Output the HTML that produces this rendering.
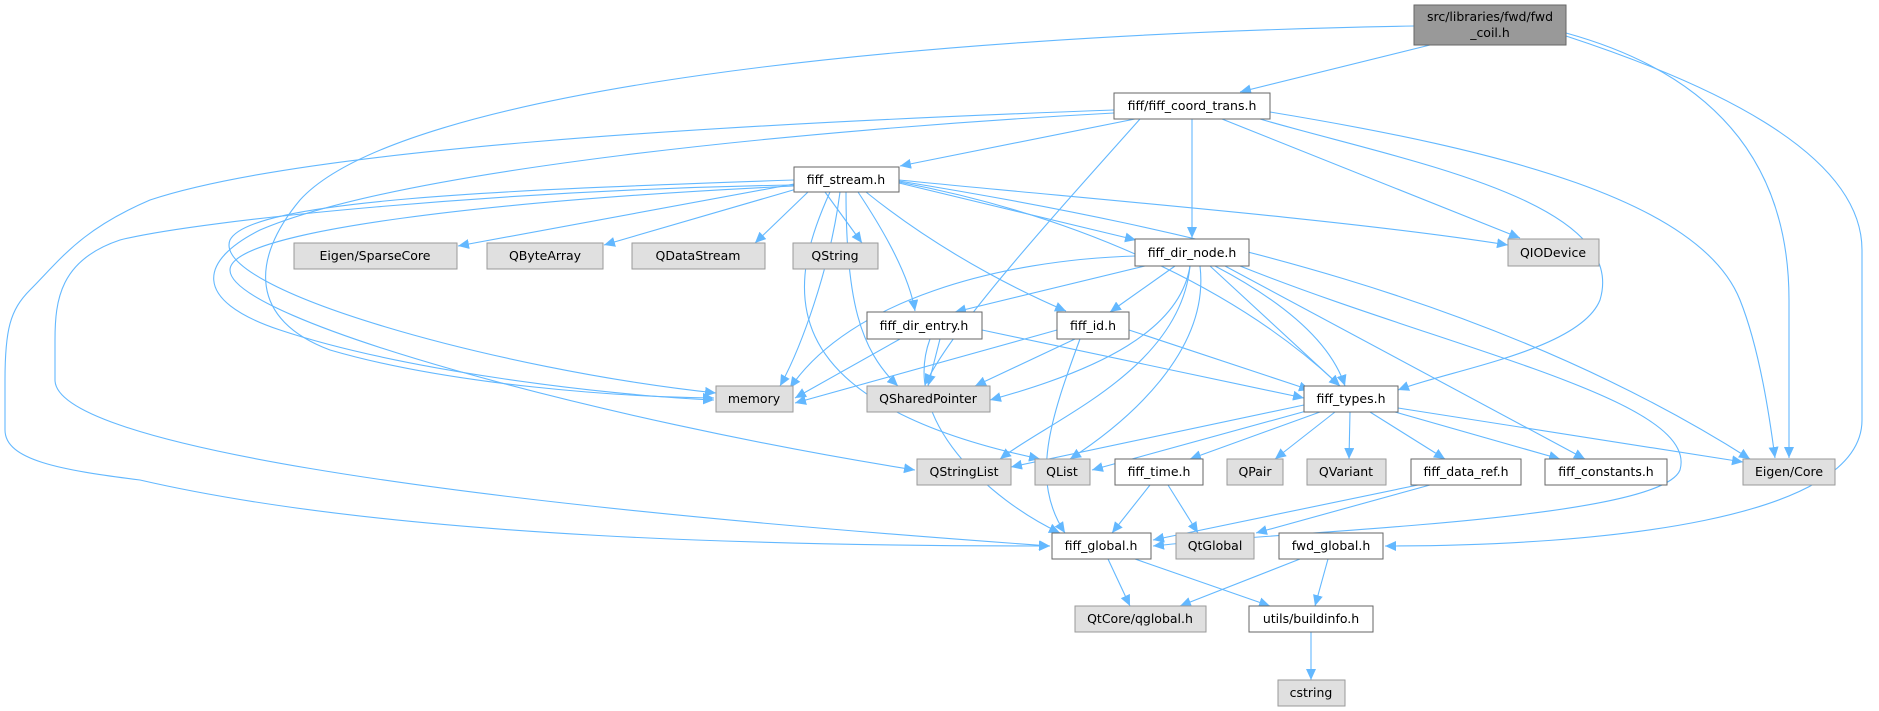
<!DOCTYPE html>
<html><head><meta charset="utf-8"><style>
html,body{margin:0;padding:0;background:#fff;}
svg{display:block;}
text{font-family:"DejaVu Sans","Liberation Sans",sans-serif;font-size:12.5px;fill:#000;}
.w{fill:#fff;stroke:#666;stroke-width:1;}
.g{fill:#e0e0e0;stroke:#999;stroke-width:1;}
.e{fill:none;stroke:#63b8ff;stroke-width:1.1;marker-end:url(#a);}
</style></head><body>
<svg width="1879" height="711" viewBox="0 0 1879 711" xmlns="http://www.w3.org/2000/svg">
<defs><marker id="a" markerUnits="userSpaceOnUse" markerWidth="12" markerHeight="10" refX="11" refY="5" orient="auto"><path d="M0,0 L11,5 L0,10 z" fill="#63b8ff"/></marker></defs>
<g>
<path class="e" d="M1430,45 L1240,92"/>
<path class="e" d="M1414,26 C900,35 400,90 300,200 C250,260 250,320 330,350 C450,385 620,397 714,398"/>
<path class="e" d="M1566,33 C1700,70 1789,150 1789,300 L1789,458"/>
<path class="e" d="M1566,36 C1700,80 1862,150 1862,250 L1862,420 C1862,520 1600,546 1385,546"/>
<path class="e" d="M1135,119 L900,166"/>
<path class="e" d="M1114,110 C700,125 300,150 150,200 C80,230 60,260 30,290 C10,310 5,330 5,380 L5,430 C5,460 60,470 140,480 C400,540 800,546 1050,546"/>
<path class="e" d="M1114,113 C800,130 400,170 260,230 C200,260 190,300 280,330 C400,370 600,395 714,400"/>
<path class="e" d="M1140,119 C1050,220 950,330 925,385"/>
<path class="e" d="M1192,119 L1192,238"/>
<path class="e" d="M1222,119 L1520,238"/>
<path class="e" d="M1260,119 C1400,160 1630,200 1600,300 C1580,350 1450,370 1398,390"/>
<path class="e" d="M1270,112 C1500,150 1700,200 1740,300 C1760,350 1770,420 1775,458"/>
<path class="e" d="M794,184 L458,246"/>
<path class="e" d="M800,188 L604,245"/>
<path class="e" d="M808,192 L755,243"/>
<path class="e" d="M825,192 L862,243"/>
<path class="e" d="M794,180 C500,190 250,200 230,240 C210,290 500,370 716,393"/>
<path class="e" d="M840,192 C830,270 800,350 780,386"/>
<path class="e" d="M846,192 C846,300 860,350 898,386"/>
<path class="e" d="M858,192 C890,240 910,280 915,311"/>
<path class="e" d="M866,192 C950,260 1040,300 1066,311"/>
<path class="e" d="M899,183 L1136,240"/>
<path class="e" d="M899,180 C1100,200 1350,220 1508,245"/>
<path class="e" d="M899,182 C1100,220 1250,300 1340,386"/>
<path class="e" d="M899,181 C1200,230 1500,300 1750,459"/>
<path class="e" d="M830,192 C790,280 760,400 1040,459"/>
<path class="e" d="M794,186 C500,200 230,230 230,270 C230,320 600,420 915,470"/>
<path class="e" d="M794,185 C500,190 200,220 120,240 C60,260 55,300 55,340 L55,380 C55,440 400,500 1050,546"/>
<path class="e" d="M1145,266 L955,312"/>
<path class="e" d="M1175,266 L1110,312"/>
<path class="e" d="M1135,256 C1000,260 850,300 790,388"/>
<path class="e" d="M1190,266 C1180,330 1100,370 990,400"/>
<path class="e" d="M1190,266 C1180,370 1050,420 1000,459"/>
<path class="e" d="M1200,266 C1210,350 1130,420 1070,459"/>
<path class="e" d="M1210,266 L1340,386"/>
<path class="e" d="M1215,266 C1280,300 1330,340 1345,386"/>
<path class="e" d="M1225,266 L1585,459"/>
<path class="e" d="M1240,266 C1450,350 1700,400 1680,470 C1660,520 1300,530 1153,546"/>
<path class="e" d="M900,339 L795,398"/>
<path class="e" d="M940,339 L928,386"/>
<path class="e" d="M982,330 L1304,398"/>
<path class="e" d="M930,339 C900,420 990,500 1060,533"/>
<path class="e" d="M1057,330 L795,403"/>
<path class="e" d="M1075,339 L975,386"/>
<path class="e" d="M1129,330 L1310,390"/>
<path class="e" d="M1080,339 C1050,420 1030,480 1065,533"/>
<path class="e" d="M1304,405 L1011,467"/>
<path class="e" d="M1310,410 L1092,470"/>
<path class="e" d="M1320,412 L1190,459"/>
<path class="e" d="M1335,412 L1275,459"/>
<path class="e" d="M1350,412 L1349,459"/>
<path class="e" d="M1370,412 L1445,459"/>
<path class="e" d="M1395,412 L1560,459"/>
<path class="e" d="M1398,408 L1743,462"/>
<path class="e" d="M1150,485 L1112,533"/>
<path class="e" d="M1168,485 L1198,533"/>
<path class="e" d="M1418,485 L1153,540"/>
<path class="e" d="M1430,485 L1256,533"/>
<path class="e" d="M1108,559 L1130,606"/>
<path class="e" d="M1135,559 L1270,606"/>
<path class="e" d="M1300,559 L1180,606"/>
<path class="e" d="M1328,559 L1315,606"/>
<path class="e" d="M1311,632 L1311,680"/>
</g>
<g text-anchor="middle">
<rect x="1414" y="5" width="152" height="40" fill="#999" stroke="#666"/>
<text x="1490" y="21">src/libraries/fwd/fwd</text><text x="1490" y="37">_coil.h</text>
<rect class="w" x="1114" y="93" width="156" height="26"/><text x="1192" y="110">fiff/fiff_coord_trans.h</text>
<rect class="w" x="794" y="167" width="105" height="25"/><text x="846" y="184">fiff_stream.h</text>
<rect class="g" x="294" y="243" width="163" height="26"/><text x="375" y="260">Eigen/SparseCore</text>
<rect class="g" x="487" y="243" width="116" height="26"/><text x="545" y="260">QByteArray</text>
<rect class="g" x="632" y="243" width="133" height="26"/><text x="698" y="260">QDataStream</text>
<rect class="g" x="793" y="243" width="85" height="26"/><text x="835" y="260">QString</text>
<rect class="w" x="1135" y="239" width="114" height="27"/><text x="1192" y="257">fiff_dir_node.h</text>
<rect class="g" x="1508" y="239" width="91" height="27"/><text x="1553" y="257">QIODevice</text>
<rect class="w" x="867" y="312" width="115" height="27"/><text x="924" y="330">fiff_dir_entry.h</text>
<rect class="w" x="1057" y="312" width="72" height="27"/><text x="1093" y="330">fiff_id.h</text>
<rect class="g" x="716" y="386" width="77" height="26"/><text x="754" y="403">memory</text>
<rect class="g" x="867" y="386" width="123" height="26"/><text x="928" y="403">QSharedPointer</text>
<rect class="w" x="1304" y="386" width="94" height="26"/><text x="1351" y="403">fiff_types.h</text>
<rect class="g" x="917" y="459" width="94" height="26"/><text x="964" y="476">QStringList</text>
<rect class="g" x="1035" y="459" width="55" height="26"/><text x="1062" y="476">QList</text>
<rect class="w" x="1115" y="459" width="88" height="26"/><text x="1159" y="476">fiff_time.h</text>
<rect class="g" x="1227" y="459" width="56" height="26"/><text x="1255" y="476">QPair</text>
<rect class="g" x="1307" y="459" width="79" height="26"/><text x="1346" y="476">QVariant</text>
<rect class="w" x="1411" y="459" width="110" height="26"/><text x="1466" y="476">fiff_data_ref.h</text>
<rect class="w" x="1545" y="459" width="122" height="26"/><text x="1606" y="476">fiff_constants.h</text>
<rect class="g" x="1743" y="459" width="92" height="26"/><text x="1789" y="476">Eigen/Core</text>
<rect class="w" x="1052" y="533" width="99" height="26"/><text x="1101" y="550">fiff_global.h</text>
<rect class="g" x="1176" y="533" width="78" height="26"/><text x="1215" y="550">QtGlobal</text>
<rect class="w" x="1279" y="533" width="104" height="26"/><text x="1331" y="550">fwd_global.h</text>
<rect class="g" x="1075" y="606" width="131" height="26"/><text x="1140" y="623">QtCore/qglobal.h</text>
<rect class="w" x="1249" y="606" width="124" height="26"/><text x="1311" y="623">utils/buildinfo.h</text>
<rect class="g" x="1278" y="680" width="67" height="26"/><text x="1311" y="697">cstring</text>
</g>
</svg>
</body></html>
